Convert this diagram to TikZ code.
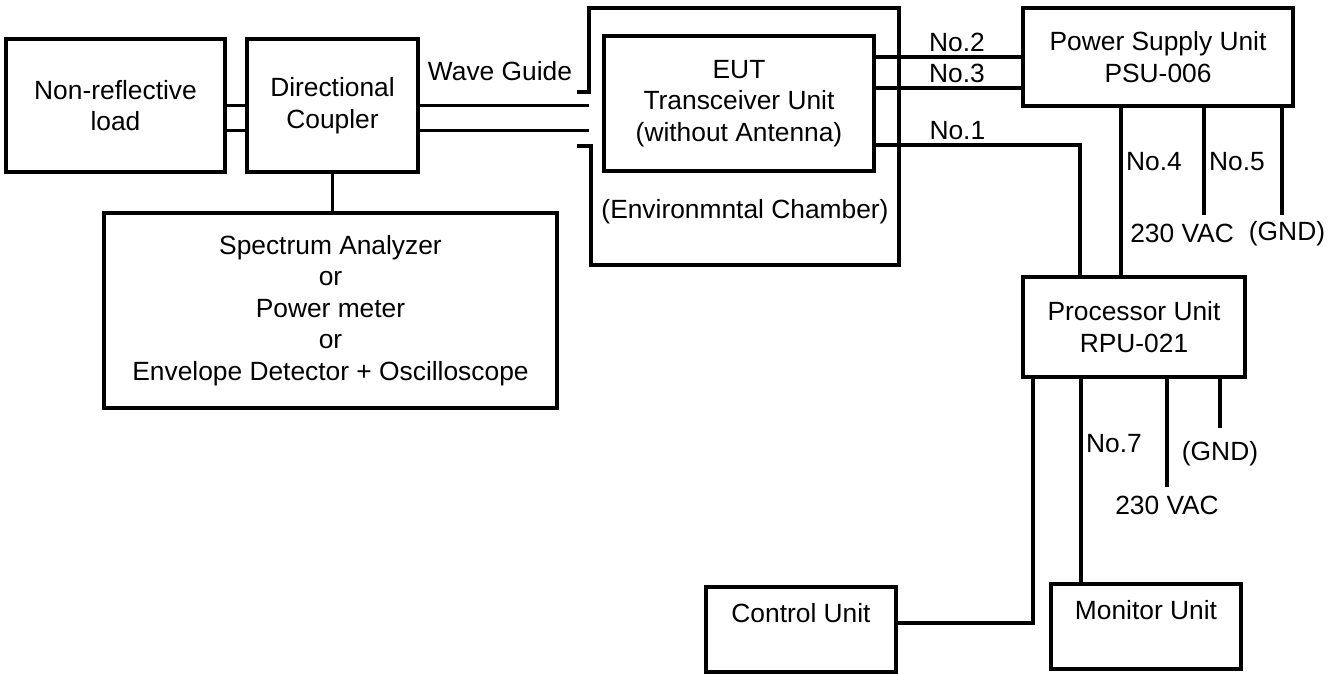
\documentclass[tikz,border=0pt]{standalone}
\usepackage{fontspec}
\setmainfont{Liberation Sans}
\usepackage{tikz}
\usetikzlibrary{positioning}

\begin{document}
\begin{tikzpicture}[x=0.02cm, y=-0.02cm,
    every node/.style={font=\fontsize{15}{18}\selectfont},
    unit/.style={draw, line width=1.8pt, align=center, inner sep=0pt},
    wire/.style={line width=1.8pt},
    lbl/.style={inner sep=2pt}]
  \useasboundingbox (0, 0) rectangle (1344, 673);

  % units
  \node [unit, minimum width=219*0.02cm, minimum height=133*0.02cm] (load) at (115.5, 105.5) {Non-reflective\\load};
  \node [unit, minimum width=171*0.02cm, minimum height=133*0.02cm] (coupler) at (332.5, 105.5) {Directional\\Coupler};
  \node [unit, minimum width=453*0.02cm, minimum height=195*0.02cm] (analyzer) at (330.5, 310.5) {Spectrum Analyzer\\or\\Power meter\\or\\Envelope Detector + Oscilloscope};
  \node [unit, minimum width=270*0.02cm, minimum height=135*0.02cm] (eut) at (739, 103.5) {EUT\\Transceiver Unit\\(without Antenna)};
  \node [unit, minimum width=270*0.02cm, minimum height=98*0.02cm] (psu) at (1158, 57) {Power Supply Unit\\PSU-006};
  \node [unit, minimum width=222*0.02cm, minimum height=100*0.02cm] (rpu) at (1134, 327) {Processor Unit\\RPU-021};
  \node [unit, minimum width=190*0.02cm, minimum height=85*0.02cm] (control) at (801, 629.5) {Control Unit\\[-4pt]\strut};
  \node [unit, minimum width=190*0.02cm, minimum height=85*0.02cm] (monitor) at (1146, 626.5) {Monitor Unit\\[-4pt]\strut};

  % environmental chamber
  \draw [wire] (577, 92) -- (589, 92) -- (589, 8) -- (899, 8) -- (899, 265)
    -- (591, 265) -- (591, 146) -- (577, 146);
  \node (chamber) at (745, 212) {(Environmntal Chamber)};
  \node (guide) at (500, 71) {Wave Guide};
  \coordinate (wgin) at (589, 106);

  % wave guide
  \draw [wire] (load.east) -- (coupler.west);
  \draw [wire] ([yshift=-0.5cm]load.east) -- ([yshift=-0.5cm]coupler.west);
  \draw [wire] (coupler.east) -- (coupler.east -| wgin);
  \draw [wire] ([yshift=-0.5cm]coupler.east) -- ([yshift=-0.5cm]coupler.east -| wgin);
  \draw [wire] (coupler.south) -- (coupler.south |- analyzer.north);

  % cables
  \draw [wire] ([yshift=0.93cm]eut.east) -- ([yshift=0.93cm]eut.east -| psu.west)
    node [lbl, midway, above, xshift=0.17cm] {No.2};
  \draw [wire] ([yshift=0.31cm]eut.east) -- ([yshift=0.31cm]eut.east -| psu.west)
    node [lbl, midway, above, xshift=0.17cm] {No.3};
  \draw [wire] ([yshift=-0.83cm]eut.east) -| ([xshift=-1.08cm]rpu.north)
    node [lbl, pos=0.2, above] {No.1};
  \draw [wire] ([xshift=-0.74cm]psu.south) -- ([xshift=-0.74cm]psu.south |- rpu.north)
    node [lbl, pos=0.32, right] {No.4};

  \coordinate (acpsu) at (1204, 215);
  \coordinate (gndpsu) at (1282, 215);
  \draw [wire] (psu.south -| acpsu) -- (acpsu)
    node [lbl, pos=0.5, right] {No.5};
  \draw [wire] (psu.south -| gndpsu) -- (gndpsu);
  \node [lbl, below=0.1cm of acpsu, xshift=-0.44cm] (acpsulbl) {230 VAC};
  \node [lbl, below=0.06cm of gndpsu, xshift=0.1cm] (gndpsulbl) {(GND)};

  \draw [wire] ([xshift=-2.02cm]rpu.south) |- ([yshift=0.13cm]control.east);
  \draw [wire] ([xshift=-1.06cm]rpu.south) -- ([xshift=-1.06cm]rpu.south |- monitor.north)
    node [lbl, pos=0.32, right] {No.7};

  \coordinate (acrpu) at (1167, 487);
  \coordinate (gndrpu) at (1220, 428);
  \draw [wire] (rpu.south -| acrpu) -- (acrpu);
  \draw [wire] (rpu.south -| gndrpu) -- (gndrpu);
  \node [lbl, below=0.1cm of acrpu] (acrpulbl) {230 VAC};
  \node [lbl, below=0.2cm of gndrpu] (gndrpulbl) {(GND)};
\end{tikzpicture}
\end{document}
